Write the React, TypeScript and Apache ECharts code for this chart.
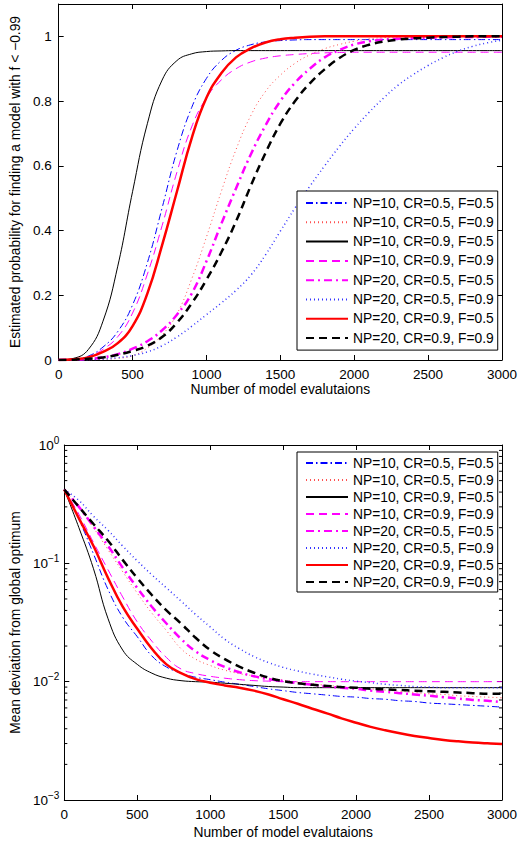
import React, { useEffect, useRef } from 'react';
import * as echarts from 'echarts';

const FONT = '"Liberation Sans", Arial, Helvetica, sans-serif';

// Number of model evaluations (shared x values)
const evals = [0, 100, 200, 300, 400, 500, 600, 700, 800, 900, 1000, 1100, 1200, 1300, 1400, 1500,
  1600, 1700, 1800, 1900, 2000, 2100, 2200, 2300, 2400, 2500, 2600, 2700, 2800, 2900, 3000];

const seriesNames = [
  'NP=10, CR=0.5, F=0.5',
  'NP=10, CR=0.5, F=0.9',
  'NP=10, CR=0.9, F=0.5',
  'NP=10, CR=0.9, F=0.9',
  'NP=20, CR=0.5, F=0.5',
  'NP=20, CR=0.5, F=0.9',
  'NP=20, CR=0.9, F=0.5',
  'NP=20, CR=0.9, F=0.9',
];

// Top panel: estimated probability for finding a model with f < -0.99
const probA = [0, 0.002, 0.012, 0.04, 0.088, 0.17, 0.3, 0.47, 0.645, 0.78, 0.87, 0.925, 0.957, 0.974, 0.983, 0.987, 0.989, 0.99, 0.99, 0.99, 0.99, 0.99, 0.99, 0.99, 0.99, 0.99, 0.99, 0.99, 0.99, 0.99, 0.99];
const probB = [0, 0, 0.001, 0.002, 0.005, 0.013, 0.037, 0.077, 0.142, 0.25, 0.38, 0.52, 0.65, 0.755, 0.83, 0.88, 0.917, 0.943, 0.962, 0.975, 0.985, 0.992, 0.996, 0.998, 0.999, 0.999, 0.999, 0.999, 0.999, 0.999, 0.999];
const probC = [0, 0.005, 0.032, 0.12, 0.29, 0.52, 0.73, 0.865, 0.925, 0.946, 0.953, 0.955, 0.956, 0.956, 0.956, 0.956, 0.956, 0.956, 0.956, 0.956, 0.956, 0.956, 0.956, 0.956, 0.956, 0.956, 0.956, 0.956, 0.956, 0.956, 0.956];
const probD = [0, 0.002, 0.01, 0.033, 0.072, 0.145, 0.265, 0.415, 0.58, 0.72, 0.81, 0.865, 0.9, 0.921, 0.933, 0.94, 0.944, 0.947, 0.949, 0.95, 0.951, 0.951, 0.951, 0.951, 0.951, 0.951, 0.951, 0.951, 0.951, 0.951, 0.951];
const probE = [0, 0.001, 0.003, 0.008, 0.018, 0.035, 0.058, 0.092, 0.14, 0.205, 0.305, 0.42, 0.53, 0.635, 0.725, 0.8, 0.857, 0.9, 0.935, 0.958, 0.975, 0.985, 0.99, 0.993, 0.995, 0.996, 0.997, 0.998, 0.998, 0.999, 0.999];
const probF = [0, 0, 0.001, 0.003, 0.007, 0.014, 0.025, 0.044, 0.071, 0.104, 0.14, 0.176, 0.215, 0.262, 0.325, 0.398, 0.47, 0.537, 0.6, 0.66, 0.715, 0.765, 0.81, 0.85, 0.882, 0.91, 0.934, 0.954, 0.969, 0.98, 0.988];
const probG = [0, 0.002, 0.008, 0.025, 0.052, 0.105, 0.205, 0.355, 0.52, 0.685, 0.81, 0.886, 0.935, 0.963, 0.981, 0.991, 0.996, 0.999, 1, 1, 1, 1, 1, 1, 1, 1, 1, 1, 1, 1, 1];
const probH = [0, 0.001, 0.004, 0.008, 0.016, 0.028, 0.044, 0.071, 0.115, 0.175, 0.248, 0.332, 0.428, 0.538, 0.64, 0.73, 0.8, 0.855, 0.898, 0.933, 0.958, 0.974, 0.984, 0.99, 0.994, 0.996, 0.998, 0.999, 1, 1, 1];

// Bottom panel: mean deviation from global optimum (log scale)
const devA = [0.42, 0.235, 0.12, 0.06, 0.035, 0.024, 0.0165, 0.0133, 0.0118, 0.0109, 0.0104, 0.0099, 0.0095, 0.0091, 0.0087, 0.0084, 0.0081, 0.0079, 0.0077, 0.0075, 0.0074, 0.0072, 0.0071, 0.0069, 0.0068, 0.0066, 0.0065, 0.0064, 0.0063, 0.0062, 0.0061];
const devB = [0.42, 0.3, 0.2, 0.13, 0.085, 0.056, 0.038, 0.027, 0.019, 0.0155, 0.0137, 0.0125, 0.0117, 0.0112, 0.0107, 0.0103, 0.0099, 0.0096, 0.0093, 0.0091, 0.0089, 0.0087, 0.0085, 0.0083, 0.0081, 0.0079, 0.0078, 0.0076, 0.0075, 0.0074, 0.0073];
const devC = [0.42, 0.2, 0.09, 0.034, 0.0185, 0.014, 0.0118, 0.0107, 0.0102, 0.01, 0.0099, 0.0097, 0.0095, 0.0093, 0.0091, 0.009, 0.0089, 0.0089, 0.0089, 0.0089, 0.0089, 0.0089, 0.0089, 0.0089, 0.0089, 0.0089, 0.0089, 0.0089, 0.0089, 0.0089, 0.0089];
const devD = [0.42, 0.26, 0.15, 0.088, 0.052, 0.032, 0.022, 0.016, 0.0128, 0.0117, 0.0111, 0.0107, 0.0104, 0.0102, 0.0101, 0.01, 0.01, 0.01, 0.01, 0.01, 0.01, 0.01, 0.01, 0.01, 0.01, 0.01, 0.01, 0.01, 0.01, 0.01, 0.01];
const devE = [0.42, 0.3, 0.205, 0.14, 0.092, 0.062, 0.043, 0.031, 0.023, 0.018, 0.0152, 0.0133, 0.012, 0.0111, 0.0105, 0.0101, 0.0097, 0.0094, 0.0091, 0.0089, 0.0087, 0.0084, 0.0082, 0.008, 0.0078, 0.0076, 0.0074, 0.0072, 0.007, 0.0069, 0.0067];
const devF = [0.42, 0.34, 0.25, 0.19, 0.14, 0.105, 0.08, 0.062, 0.048, 0.037, 0.029, 0.0228, 0.019, 0.0163, 0.0145, 0.0132, 0.0123, 0.0116, 0.011, 0.0105, 0.0101, 0.0098, 0.0095, 0.0093, 0.0091, 0.009, 0.0089, 0.0089, 0.0089, 0.0089, 0.0089];
const devG = [0.42, 0.24, 0.14, 0.075, 0.043, 0.028, 0.019, 0.014, 0.0118, 0.0105, 0.0098, 0.0093, 0.0089, 0.0084, 0.0078, 0.0071, 0.0065, 0.0059, 0.0054, 0.0049, 0.0045, 0.00415, 0.00388, 0.00366, 0.00348, 0.00334, 0.00322, 0.00313, 0.00306, 0.00301, 0.00297];
const devH = [0.42, 0.3, 0.215, 0.155, 0.107, 0.075, 0.054, 0.04, 0.031, 0.0235, 0.0185, 0.0155, 0.0134, 0.0119, 0.0108, 0.0101, 0.0097, 0.0094, 0.0092, 0.009, 0.0089, 0.0087, 0.0086, 0.0085, 0.0084, 0.0083, 0.0082, 0.0081, 0.008, 0.0079, 0.0079];

const probSeries = [probA, probB, probC, probD, probE, probF, probG, probH];
const devSeries = [devA, devB, devC, devD, devE, devF, devG, devH];

// Minor tick values of the log axis
const logMinorTicks = [0.002, 0.003, 0.004, 0.005, 0.006, 0.007, 0.008, 0.009,
  0.02, 0.03, 0.04, 0.05, 0.06, 0.07, 0.08, 0.09,
  0.2, 0.3, 0.4, 0.5, 0.6, 0.7, 0.8, 0.9];

const lineStyles: any[] = [
  { color: '#0000ff', width: 1, type: [7, 3, 1.5, 3] },
  { color: '#ff5050', width: 1, type: [1, 3] },
  { color: '#000000', width: 1, type: 'solid' },
  { color: '#ff00ff', width: 1, type: [8, 5] },
  { color: '#ff00ff', width: 2.5, type: [8, 4, 2, 4] },
  { color: '#3333ff', width: 1.5, type: [1, 3] },
  { color: '#ff0000', width: 2.5, type: 'solid' },
  { color: '#000000', width: 2.5, type: [8, 5] },
];

const black = { color: '#000', width: 1 };
const tickFont = { color: '#000', fontSize: 13.5, fontFamily: FONT };
const nameFont = { color: '#000', fontSize: 13.8, fontFamily: FONT };

function xAxes(gridIndex: number, nameGap: number) {
  const base = {
    type: 'value', gridIndex, min: 0, max: 3000, interval: 500,
    axisLine: { show: true, onZero: false, lineStyle: black },
    axisTick: { show: true, inside: true, length: 5, lineStyle: black },
    splitLine: { show: false },
  };
  return [
    { ...base, position: 'bottom',
      axisLabel: { ...tickFont, margin: 7, formatter: (v: number) => String(v) },
      name: 'Number of model evalutaions', nameLocation: 'middle', nameGap, nameTextStyle: nameFont },
    { ...base, position: 'top', axisLabel: { show: false } },
  ];
}

function buildOption() {
  const series: any[] = [];
  const addLines = (data: number[][], xi: number, yi: number) => {
    data.forEach((arr, i) => {
      series.push({
        name: seriesNames[i], type: 'line', xAxisIndex: xi, yAxisIndex: yi,
        data: evals.map((x, k) => [x, arr[k]]),
        symbol: 'none', showSymbol: false, smooth: 0.45, silent: true,
        lineStyle: lineStyles[i],
        itemStyle: { color: lineStyles[i].color },
      });
    });
  };
  addLines(probSeries, 0, 0);
  addLines(devSeries, 2, 2);

  const minorData: number[][] = [];
  logMinorTicks.forEach((v) => {
    minorData.push([evals[0], v, 1]);
    minorData.push([evals[evals.length - 1], v, -1]);
  });
  series.push({
    type: 'custom', xAxisIndex: 2, yAxisIndex: 2, silent: true,
    data: minorData,
    renderItem: (params: any, api: any) => {
      const p = api.coord([api.value(0), api.value(1)]);
      const dir = api.value(2);
      return {
        type: 'line',
        shape: { x1: p[0], y1: p[1], x2: p[0] + dir * 3, y2: p[1] },
        style: { stroke: '#000', lineWidth: 1 },
      };
    },
  });

  const legendBase = {
    data: seriesNames, orient: 'vertical', left: 297, itemWidth: 42, itemHeight: 14,
    borderColor: '#000', borderWidth: 1, borderRadius: 0, backgroundColor: '#fff',
    itemStyle: { opacity: 0, borderWidth: 0 },
    textStyle: { color: '#000', fontSize: 13.8, fontFamily: FONT }, selectedMode: false,
  };

  const logFormatter = (v: number) => {
    const e = Math.round(Math.log10(v));
    return '{b|10}{s|' + (e === 0 ? '0' : '\u2212' + String(-e)) + '}';
  };

  return {
    animation: false,
    backgroundColor: '#fff',
    textStyle: { fontFamily: FONT },
    grid: [
      { left: 53, top: 4, width: 452, height: 356 },
      { left: 53, top: 445, width: 452, height: 355 },
    ],
    legend: [
      { ...legendBase, top: 191, itemGap: 5.3, padding: [5, 4, 5, 8] },
      { ...legendBase, top: 452, itemGap: 3, padding: [4, 4, 3, 8] },
    ],
    xAxis: [...xAxes(0, 22), ...xAxes(1, 25)],
    yAxis: [
      {
        type: 'value', gridIndex: 0, min: 0, max: 1.1, interval: 0.2, position: 'left',
        axisLine: { show: true, onZero: false, lineStyle: black },
        axisTick: { show: true, inside: true, length: 5, lineStyle: black },
        axisLabel: { ...tickFont, margin: 7, showMaxLabel: false },
        splitLine: { show: false },
        name: 'Estimated probability for finding a model with f < \u22120.99',
        nameLocation: 'middle', nameGap: 29, nameTextStyle: nameFont,
      },
      {
        type: 'value', gridIndex: 0, min: 0, max: 1.1, interval: 0.2, position: 'right',
        axisLine: { show: true, onZero: false, lineStyle: black },
        axisTick: { show: true, inside: true, length: 5, lineStyle: black },
        axisLabel: { show: false }, splitLine: { show: false },
      },
      {
        type: 'log', logBase: 10, gridIndex: 1, min: 0.001, max: 1, position: 'left',
        axisLine: { show: true, onZero: false, lineStyle: black },
        axisTick: { show: true, inside: true, length: 5, lineStyle: black },
        axisLabel: {
          margin: 5, formatter: logFormatter,
          rich: {
            b: { color: '#000', fontSize: 13.5, fontFamily: FONT },
            s: { color: '#000', fontSize: 10, fontFamily: FONT, padding: [0, 0, 10, 0] },
          },
        },
        splitLine: { show: false },
        name: 'Mean deviation from global optimum',
        nameLocation: 'middle', nameGap: 37, nameTextStyle: nameFont,
      },
      {
        type: 'log', logBase: 10, gridIndex: 1, min: 0.001, max: 1, position: 'right',
        axisLine: { show: true, onZero: false, lineStyle: black },
        axisTick: { show: true, inside: true, length: 5, lineStyle: black },
        axisLabel: { show: false }, splitLine: { show: false },
      },
    ],
    series,
  };
}

export default function App() {
  const ref = useRef<HTMLDivElement>(null);
  useEffect(() => {
    if (!ref.current) return;
    const chart = echarts.init(ref.current, null, { renderer: 'svg' });
    chart.setOption(buildOption() as any);
    return () => chart.dispose();
  }, []);
  return (
    <div
      ref={ref}
      style={{ position: 'fixed', left: 0, top: 0, width: 520, height: 842, background: '#fff' }}
    />
  );
}
